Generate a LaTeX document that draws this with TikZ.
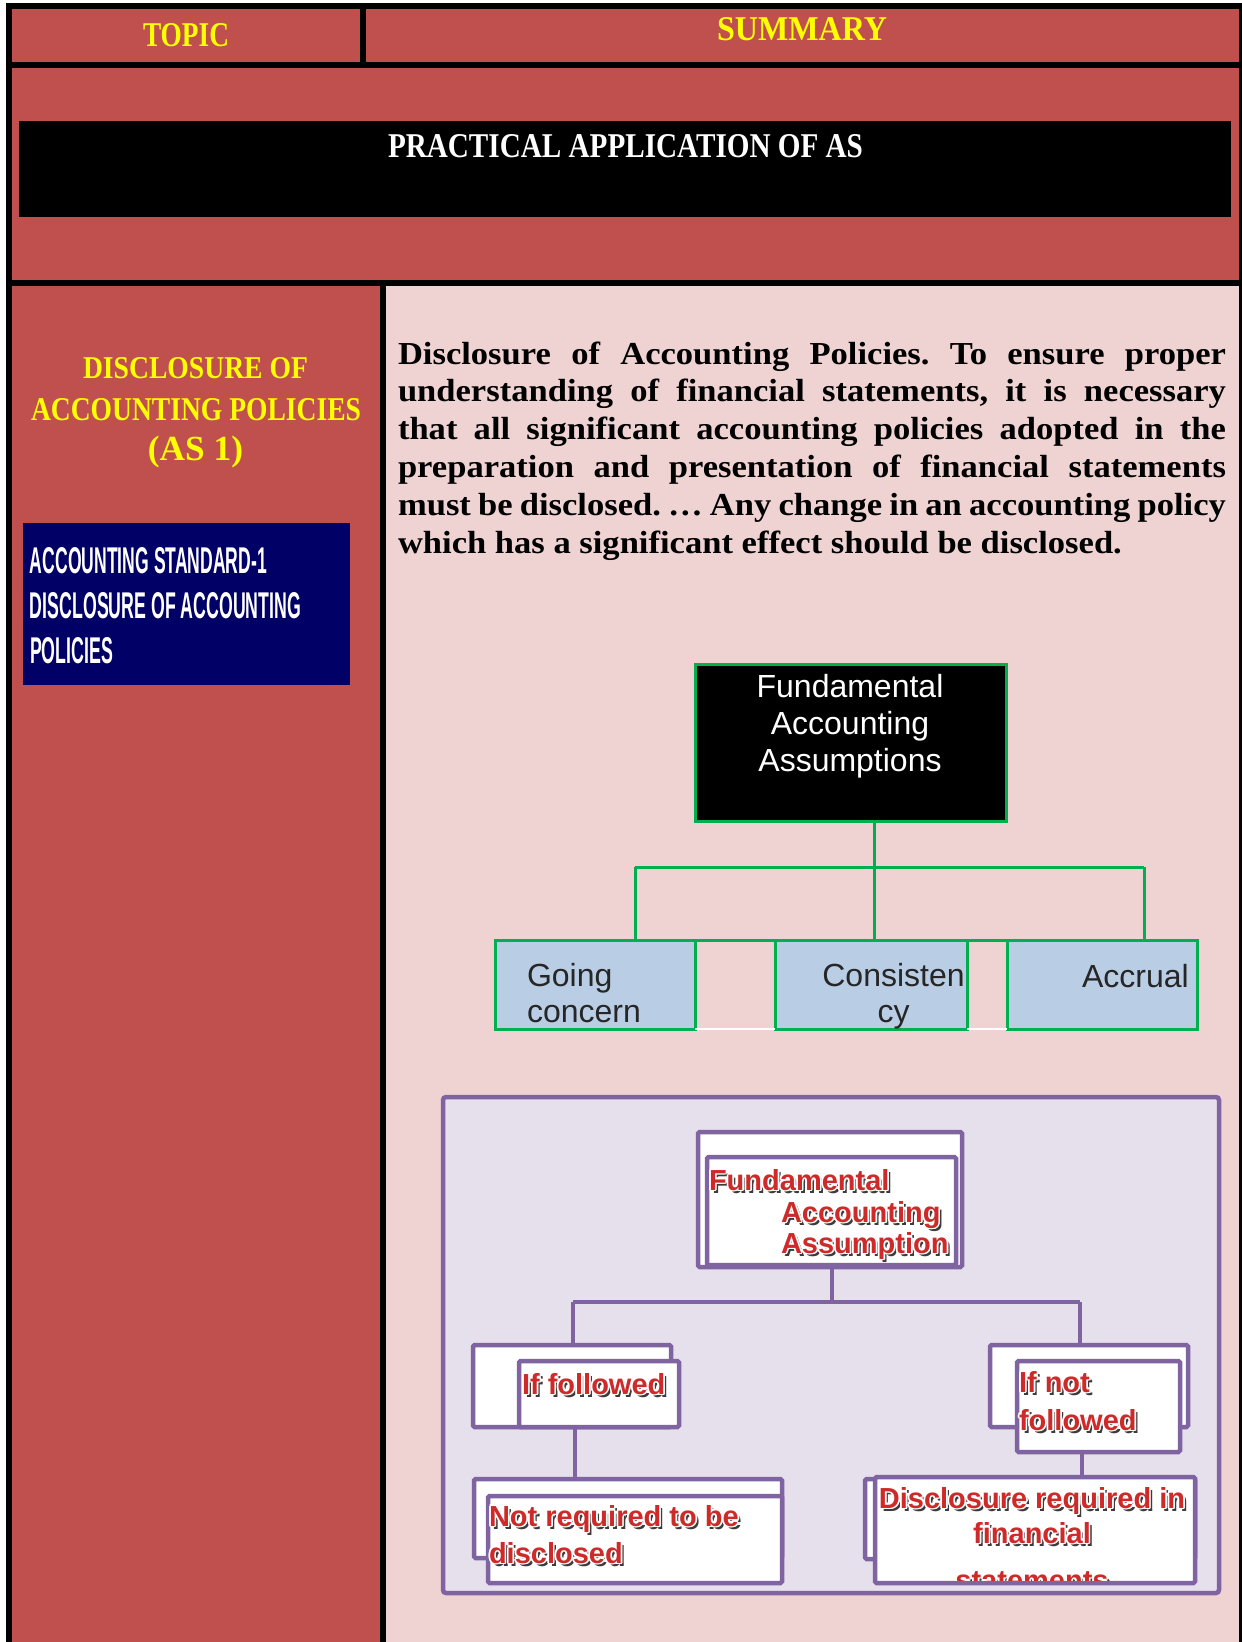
\documentclass[tikz,border=0pt]{standalone}
\usepackage{fontspec}
\usepackage{graphicx}
\setmainfont{Liberation Serif}
\newfontfamily\parafont{Liberation Serif}[FakeStretch=1.08]
\newfontfamily\armfont{Liberation Sans}
\frenchspacing

\definecolor{cellred}{HTML}{C0504D}
\definecolor{cellpink}{HTML}{EFD3D3}
\definecolor{navybox}{HTML}{000066}
\definecolor{headyellow}{HTML}{FFFF00}
\definecolor{treegreen}{HTML}{00B050}
\definecolor{leafblue}{HTML}{B9CDE5}
\definecolor{lavender}{HTML}{E5E0EC}
\definecolor{treepurple}{HTML}{8064A2}
\definecolor{labelred}{HTML}{CF2A2A}
\definecolor{labelshadow}{HTML}{3C3C3C}
\definecolor{leaftext}{HTML}{262626}

% red label with white rim and dark drop shadow
\newcommand\glowtxt[1]{\leavevmode
  \rlap{\kern3pt\raisebox{-3pt}{\color{labelshadow}#1}}%
  \rlap{\kern1.7pt{\color{white}#1}}%
  \rlap{\kern-1.7pt{\color{white}#1}}%
  \rlap{\raisebox{1.7pt}{\color{white}#1}}%
  \rlap{\raisebox{-1.7pt}{\color{white}#1}}%
  \rlap{\kern1.2pt\raisebox{1.2pt}{\color{white}#1}}%
  \rlap{\kern-1.2pt\raisebox{1.2pt}{\color{white}#1}}%
  \rlap{\kern1.2pt\raisebox{-1.2pt}{\color{white}#1}}%
  \rlap{\kern-1.2pt\raisebox{-1.2pt}{\color{white}#1}}%
  {\color{labelred}#1}}

\tikzset{
  plain/.style={inner sep=0pt, outer sep=0pt},
  paraline/.style={plain, anchor=base west, font={\fontsize{32}{38}\parafont\bfseries}},
  greenbox/.style={draw=treegreen, line width=3pt, inner sep=0pt, outer sep=0pt},
  leafbox/.style={greenbox, fill=leafblue, minimum height=89},
  greenline/.style={draw=treegreen, line width=3pt},
  leaftxt/.style={plain, anchor=base, font={\fontsize{32}{37}\armfont}, text=leaftext},
  purplebox/.style={draw=treepurple, line width=4.5pt, fill=white, inner sep=0pt, outer sep=0pt, rounded corners=1.5pt},
  purpleline/.style={draw=treepurple, line width=4.5pt},
  redlbl/.style={plain, anchor=base west, font={\fontsize{29}{33}\armfont\bfseries}},
}

\begin{document}
\begin{tikzpicture}[x=1pt,y=-1pt]
\useasboundingbox (0,0) rectangle (1242,1642);
\fill[white] (0,0) rectangle (1242,1642);

% ---- table frame and cells
\fill[black] (6,3) rectangle (1242,1642);
\fill[cellred] (12,9) rectangle (360,61.7);
\fill[cellred] (366,9) rectangle (1239,61.7);
\fill[cellred] (12,67.7) rectangle (1239,280);
\fill[black] (19,121) rectangle (1231,217);
\fill[cellred] (12,286) rectangle (380,1642);
\fill[cellpink] (386,286) rectangle (1239,1642);

% ---- headings
\node[plain, anchor=north west, text=headyellow] (topic) at (143,23)
  {\resizebox{86pt}{23pt}{\bfseries TOPIC}};
\node[plain, anchor=north west, text=headyellow] (summary) at (717,17)
  {\resizebox{170pt}{23pt}{\bfseries SUMMARY}};
\node[plain, anchor=north west, text=white] (practical) at (388,134)
  {\resizebox{475pt}{23pt}{\bfseries PRACTICAL APPLICATION OF AS}};

% ---- topic column
\node[plain, anchor=north west, text=headyellow] (disc1) at (83,357)
  {\resizebox{225pt}{21pt}{\bfseries DISCLOSURE OF}};
\node[plain, anchor=north west, text=headyellow] (disc2) at (31,398)
  {\resizebox{330pt}{22pt}{\bfseries ACCOUNTING POLICIES}};
\node[plain, anchor=center, text=headyellow] (disc3) at (195.5,452)
  {\resizebox{95pt}{!}{\bfseries (AS 1)}};

\fill[navybox] (23,523) rectangle (350,685);
\node[plain, anchor=north west, text=white] (std1) at (30,547)
  {\resizebox{237pt}{26pt}{\armfont\bfseries ACCOUNTING STANDARD-1}};
\node[plain, anchor=north west, text=white] (std2) at (30,592)
  {\resizebox{271pt}{26pt}{\armfont\bfseries DISCLOSURE OF ACCOUNTING}};
\node[plain, anchor=north west, text=white] (std3) at (30,637)
  {\resizebox{83pt}{26pt}{\armfont\bfseries POLICIES}};

% ---- summary paragraph
\node[paraline] (para1) at (398,364) {\makebox[828pt][s]{Disclosure of Accounting Policies. To ensure proper}};
\node[paraline] (para2) at (398,401.8) {\makebox[828pt][s]{understanding of financial statements, it is necessary}};
\node[paraline] (para3) at (398,439.6) {\makebox[828pt][s]{that all significant accounting policies adopted in the}};
\node[paraline] (para4) at (398,477.4) {\makebox[828pt][s]{preparation and presentation of financial statements}};
\node[paraline] (para5) at (398,515.2) {\makebox[828pt][s]{must be disclosed. … Any change in an accounting policy}};
\node[paraline] (para6) at (398,553) {which has a significant effect should be disclosed.};

% ---- fundamental assumptions tree
\node[greenbox, fill=black, minimum width=311, minimum height=157] (faa) at (850.5,742.5) {};
\node[leaftxt, text=white] (faa1) at (850,697) {Fundamental};
\node[leaftxt, text=white] (faa2) at (850,734) {Accounting};
\node[leaftxt, text=white] (faa3) at (850,771) {Assumptions};

\coordinate (jl) at (635,867);
\coordinate (jm) at (874,867);
\coordinate (jr) at (1144,867);

\node[leafbox, minimum width=200] (gc) at (595,984.5) {};
\node[leafbox, minimum width=192] (cs) at (871,984.5) {};
\node[leafbox, minimum width=190] (ac) at (1102,984.5) {};
\draw[white, line width=2pt] (gc.south east) -- (cs.south west) (cs.south east) -- (ac.south west);
\draw[greenline] (gc.north east) -- (ac.north west);

\draw[greenline] (faa.south -| jm) -- (jm);
\draw[greenline] (jl) -- (jr);
\draw[greenline] (jl) -- (gc.north -| jl);
\draw[greenline] (jm) -- (cs.north -| jm);
\draw[greenline] (jr) -- (ac.north -| jr);

\node[leaftxt, anchor=base west] (gc1) at (527,986) {Going};
\node[leaftxt, anchor=base west] (gc2) at (527,1022) {concern};
\node[leaftxt] (cs1) at (893.5,986) {Consisten};
\node[leaftxt] (cs2) at (893.5,1022) {cy};
\node[leaftxt, anchor=base west] (ac1) at (1082,987) {Accrual};

% ---- disclosure decision tree
\node[draw=treepurple, line width=4.5pt, fill=lavender, rounded corners=3pt,
      minimum width=776, minimum height=496, inner sep=0pt] (frame) at (831,1345) {};

\coordinate (pl) at (573,1302);
\coordinate (pm) at (832,1302);
\coordinate (pr) at (1080,1302);

\node[purplebox, minimum width=264, minimum height=135] (topo) at (830,1199.5) {};
\node[purplebox, minimum width=198, minimum height=82] (ifo) at (572,1386) {};
\node[purplebox, minimum width=198, minimum height=82] (nfo) at (1089,1386) {};
\node[purplebox, minimum width=308, minimum height=79] (nro) at (628,1518.5) {};
\node[purplebox, minimum width=330, minimum height=80] (dro) at (1030,1519) {};

\draw[purpleline] (topo.south -| pm) -- (pm);
\draw[purpleline] (pl) -- (pr);
\draw[purpleline] (pl) -- (ifo.north -| pl);
\draw[purpleline] (pr) -- (nfo.north -| pr);

\node[purplebox, minimum width=249, minimum height=108] (topi) at (831.5,1211) {};
\node[purplebox, minimum width=160, minimum height=66] (ifi) at (599,1394) {};
\node[purplebox, minimum width=163, minimum height=91] (nfi) at (1098.5,1406.5) {};
\node[purplebox, minimum width=294, minimum height=87] (nri) at (635,1539.5) {};
\node[purplebox, minimum width=320, minimum height=106] (dri) at (1035,1530) {};

\draw[purpleline] (ifo.south -| 575,0) -- (nro.north -| 575,0);
\draw[purpleline] (nfi.south -| 1082,0) -- (dri.north -| 1082,0);

\node[redlbl] (fa1) at (709,1190) {\glowtxt{Fundamental}};
\node[redlbl] (fa2) at (781,1222) {\glowtxt{Accounting}};
\node[redlbl] (fa3) at (781,1253) {\glowtxt{Assumption}};
\node[redlbl] (if1) at (522,1394) {\glowtxt{If followed}};
\node[redlbl] (nf1) at (1019,1392) {\glowtxt{If not}};
\node[redlbl] (nf2) at (1019,1430) {\glowtxt{followed}};
\node[redlbl] (nr1) at (489,1526) {\glowtxt{Not required to be}};
\node[redlbl] (nr2) at (489,1563) {\glowtxt{disclosed}};
\begin{scope}
  \clip (dri.south west) rectangle (dri.north east);
  \node[redlbl, anchor=base] (dr1) at (1032,1508) {\glowtxt{Disclosure required in}};
  \node[redlbl, anchor=base] (dr2) at (1032,1543) {\glowtxt{financial}};
  \node[redlbl, anchor=base] (dr3) at (1032,1590) {\glowtxt{statements}};
\end{scope}
\draw[purpleline] (dri.south west) -- (dri.south east);
\end{tikzpicture}
\end{document}
